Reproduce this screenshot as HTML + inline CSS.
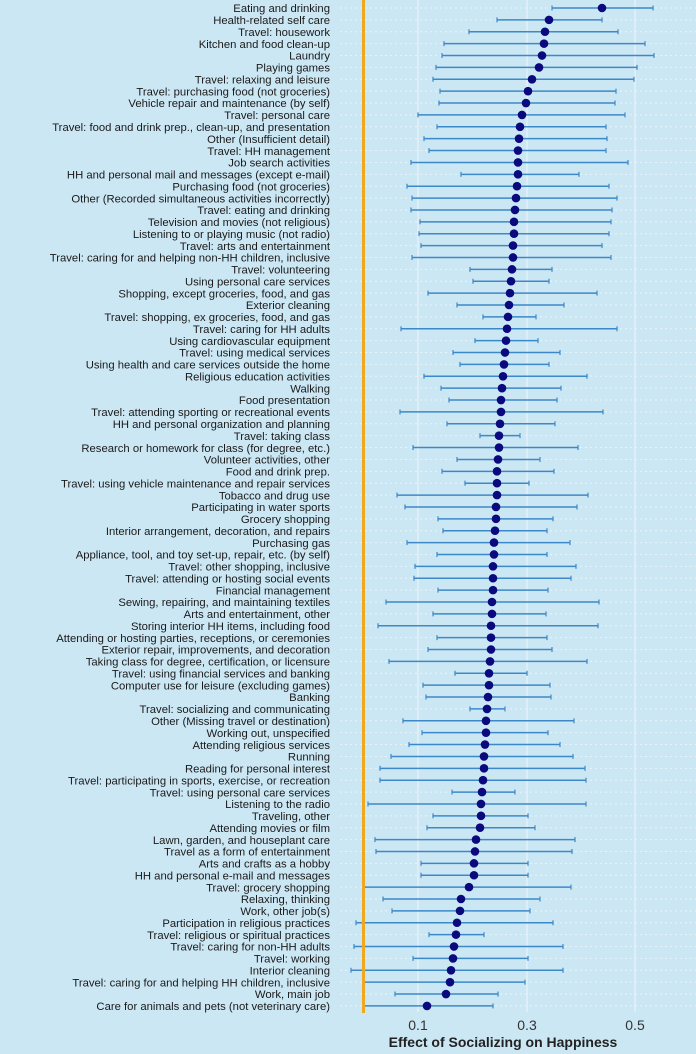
<!DOCTYPE html>
<html><head><meta charset="utf-8"><style>
html,body{margin:0;padding:0;background:#cce7f4;}
svg{display:block;font-family:"Liberation Sans",sans-serif;}
</style></head><body>
<svg id="s" width="696" height="1054" viewBox="0 0 696 1054" xmlns="http://www.w3.org/2000/svg">
<rect width="696" height="1054" fill="#cce7f4"/>
<g id="g"></g>
<line x1="418" y1="0" x2="418" y2="1012" stroke="#eef6fb" stroke-width="1"/>
<line x1="527" y1="0" x2="527" y2="1012" stroke="#eef6fb" stroke-width="1"/>
<line x1="635" y1="0" x2="635" y2="1012" stroke="#eef6fb" stroke-width="1"/>
<g id="bars"></g>
<line x1="363.5" y1="0" x2="363.5" y2="1013" stroke="#f0a820" stroke-width="3"/>
<text x="418" y="1030" font-size="14" fill="#333" text-anchor="middle">0.1</text>
<text x="527" y="1030" font-size="14" fill="#333" text-anchor="middle">0.3</text>
<text x="635" y="1030" font-size="14" fill="#333" text-anchor="middle">0.5</text>
<text x="503" y="1047" font-size="14" font-weight="bold" fill="#222" text-anchor="middle">Effect of Socializing on Happiness</text>
</svg>
<script>
var L=["Eating and drinking","Health-related self care","Travel: housework","Kitchen and food clean-up","Laundry","Playing games","Travel: relaxing and leisure","Travel: purchasing food (not groceries)","Vehicle repair and maintenance (by self)","Travel: personal care","Travel: food and drink prep., clean-up, and presentation","Other (Insufficient detail)","Travel: HH management","Job search activities","HH and personal mail and messages (except e-mail)","Purchasing food (not groceries)","Other (Recorded simultaneous activities incorrectly)","Travel: eating and drinking","Television and movies (not religious)","Listening to or playing music (not radio)","Travel: arts and entertainment","Travel: caring for and helping non-HH children, inclusive","Travel: volunteering","Using personal care services","Shopping, except groceries, food, and gas","Exterior cleaning","Travel: shopping, ex groceries, food, and gas","Travel: caring for HH adults","Using cardiovascular equipment","Travel: using medical services","Using health and care services outside the home","Religious education activities","Walking","Food presentation","Travel: attending sporting or recreational events","HH and personal organization and planning","Travel: taking class","Research or homework for class (for degree, etc.)","Volunteer activities, other","Food and drink prep.","Travel: using vehicle maintenance and repair services","Tobacco and drug use","Participating in water sports","Grocery shopping","Interior arrangement, decoration, and repairs","Purchasing gas","Appliance, tool, and toy set-up, repair, etc. (by self)","Travel: other shopping, inclusive","Travel: attending or hosting social events","Financial management","Sewing, repairing, and maintaining textiles","Arts and entertainment, other","Storing interior HH items, including food","Attending or hosting parties, receptions, or ceremonies","Exterior repair, improvements, and decoration","Taking class for degree, certification, or licensure","Travel: using financial services and banking","Computer use for leisure (excluding games)","Banking","Travel: socializing and communicating","Other (Missing travel or destination)","Working out, unspecified","Attending religious services","Running","Reading for personal interest","Travel: participating in sports, exercise, or recreation","Travel: using personal care services","Listening to the radio","Traveling, other","Attending movies or film","Lawn, garden, and houseplant care","Travel as a form of entertainment","Arts and crafts as a hobby","HH and personal e-mail and messages","Travel: grocery shopping","Relaxing, thinking","Work, other job(s)","Participation in religious practices","Travel: religious or spiritual practices","Travel: caring for non-HH adults","Travel: working","Interior cleaning","Travel: caring for and helping HH children, inclusive","Work, main job","Care for animals and pets (not veterinary care)"];
var D=[[602,552,653],[549,497,602],[545,469,618],[544,444,645],[542,442,654],[539,436,637],[532,433,634],[528,440,616],[526,439,615],[522,418,625],[520,437,606],[519,424,607],[518,429,606],[518,411,628],[518,461,579],[517,407,609],[516,412,617],[515,411,612],[514,420,611],[514,419,609],[513,421,602],[513,412,611],[512,470,552],[511,473,549],[510,428,597],[509,457,564],[508,483,536],[507,401,617],[506,475,538],[505,453,560],[504,460,549],[503,424,587],[502,441,561],[501,449,557],[501,400,603],[500,447,555],[499,480,520],[499,413,578],[498,457,540],[497,442,554],[497,465,529],[497,397,588],[496,405,577],[496,438,553],[495,443,547],[494,407,570],[494,437,547],[493,415,576],[493,414,571],[493,438,548],[492,386,599],[492,433,546],[491,378,598],[491,437,547],[491,428,552],[490,389,587],[489,455,527],[489,423,550],[488,426,551],[487,470,505],[486,403,574],[486,422,548],[485,409,560],[484,391,573],[484,380,585],[483,380,586],[482,452,515],[481,368,586],[481,433,528],[480,427,535],[476,375,575],[475,376,572],[474,421,528],[474,421,528],[469,363,571],[461,383,540],[460,392,530],[457,356,553],[456,429,484],[454,354,563],[453,413,528],[451,351,563],[450,364,525],[446,395,498],[427,363,493]];
var NS="http://www.w3.org/2000/svg",g=document.getElementById("g"),b=document.getElementById("bars");
function el(p,t,a,txt){var e=document.createElementNS(NS,t);for(var k in a)e.setAttribute(k,a[k]);if(txt)e.textContent=txt;p.appendChild(e);return e;}
for(var i=0;i<L.length;i++){
 var y=8+i*11.88;
 el(g,"line",{x1:340,y1:y,x2:696,y2:y,stroke:"#e9f4fa","stroke-width":1,"stroke-dasharray":"2,3"});
 el(g,"text",{x:330,y:y+4.2,"font-size":"11.3","text-anchor":"end",fill:"#1a1a1a"},L[i]);
 var d=D[i];
 el(b,"line",{x1:d[1],y1:y,x2:d[2],y2:y,stroke:"#3d88c8","stroke-width":1.5});
 el(b,"line",{x1:d[1],y1:y-2.5,x2:d[1],y2:y+2.5,stroke:"#3d88c8","stroke-width":1.2});
 el(b,"line",{x1:d[2],y1:y-2.5,x2:d[2],y2:y+2.5,stroke:"#3d88c8","stroke-width":1.2});
 el(b,"circle",{cx:d[0],cy:y,r:4.3,fill:"#0a0a7e"});
}
</script>
</body></html>
